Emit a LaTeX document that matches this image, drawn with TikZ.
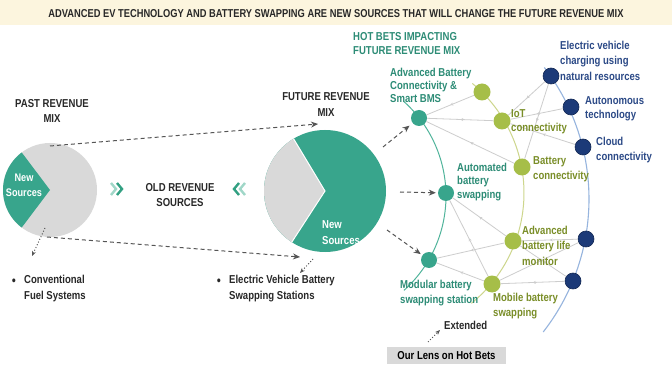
\documentclass[tikz,border=0pt]{standalone}
\usepackage{graphicx}
\usepackage{fontspec}
\setmainfont{Liberation Sans}[FakeStretch=0.83]
\usetikzlibrary{arrows.meta,decorations.markings}
\definecolor{titlebg}{RGB}{252,245,222}
\definecolor{tealc}{RGB}{56,165,140}
\definecolor{tealtxt}{RGB}{45,140,118}
\definecolor{piegrey}{RGB}{217,217,217}
\definecolor{olivec}{RGB}{166,190,72}
\definecolor{olivetxt}{RGB}{122,142,40}
\definecolor{oliveline}{RGB}{205,214,140}
\definecolor{navyc}{RGB}{28,58,120}
\definecolor{navytxt}{RGB}{44,74,135}
\definecolor{navyline}{RGB}{150,180,222}
\definecolor{tealline}{RGB}{80,180,155}
\definecolor{linkgrey}{RGB}{205,205,205}
\definecolor{darktxt}{RGB}{40,40,40}
\definecolor{arrowgrey}{RGB}{85,85,85}
\definecolor{chevlight}{RGB}{160,215,200}
\definecolor{chevdark}{RGB}{50,160,130}
\begin{document}
\begin{tikzpicture}[x=1pt,y=-1pt,
  font=\bfseries\fontsize{11.5}{13}\selectfont,
  tnode/.style={circle,fill=tealc,minimum size=16pt,inner sep=0pt},
  onode/.style={circle,fill=olivec,minimum size=17pt,inner sep=0pt},
  nnode/.style={circle,fill=navyc,draw=navyc!70!black,line width=0.6pt,minimum size=16pt,inner sep=0pt},
  lbl/.style={anchor=west,align=left,inner sep=0pt},
  link/.style={draw=linkgrey,line width=0.8pt,postaction={decorate},
    decoration={markings,mark=at position 0.5 with {\arrow[linkgrey]{Stealth[length=3pt,width=3pt]}}}},
  dasharrow/.style={draw=arrowgrey,line width=1pt,dash pattern=on 4pt off 3pt,-{Stealth[length=7pt,width=6pt]}},
  dotarrow/.style={draw=arrowgrey,line width=1pt,dotted,-{Stealth[length=5pt,width=4pt]}},
  chev/.style={line width=2.4pt,line cap=butt,line join=miter}
]
\useasboundingbox (0,0) rectangle (672,366);
\fill[white] (0,0) rectangle (672,366);
% title bar
\fill[titlebg] (0,0) rectangle (672,25);
\node[text=darktxt,inner sep=0pt] (title) at (336,14) {\resizebox{575pt}{8pt}{ADVANCED EV TECHNOLOGY AND BATTERY SWAPPING ARE NEW SOURCES THAT WILL CHANGE THE FUTURE REVENUE MIX}};

% past pie
\fill[piegrey] (50,190) circle[radius=47pt];
\fill[tealc] (50,190) -- plot[domain=127:233,samples=40] ({50+47*cos(\x)},{190-47*sin(\x)}) -- cycle;
\node[text=white,align=center,inner sep=0pt,font=\bfseries\fontsize{11}{15}\selectfont] (pastnew) at (24,185.5) {New\\Sources};
\node[text=darktxt,align=center,inner sep=0pt,font=\bfseries\fontsize{11.5}{15}\selectfont] (pasthead) at (52,110.5) {PAST REVENUE\\MIX};

% future pie
\fill[tealc] (325,191) circle[radius=61pt];
\fill[piegrey] (325,191) -- plot[domain=121:237,samples=40] ({325+61*cos(\x)},{191-61*sin(\x)}) -- cycle;
\draw[white,line width=1pt] ({325+61*cos(121)},{191-61*sin(121)}) -- (325,191) -- ({325+61*cos(237)},{191-61*sin(237)});
\node[text=white,lbl,font=\bfseries\fontsize{11.5}{16}\selectfont] (futnew) at (322,233) {New\\Sources};
\node[text=darktxt,align=center,inner sep=0pt,font=\bfseries\fontsize{11.5}{16}\selectfont] (futhead) at (326,105) {FUTURE REVENUE\\MIX};

% middle
\draw[chev,chevlight] (111,183) -- (116,189) -- (111,195);
\draw[chev,chevdark] (117,183) -- (122,189) -- (117,195);
\draw[chev,chevdark] (239,183) -- (234,189) -- (239,195);
\draw[chev,chevlight] (245,183) -- (240,189) -- (245,195);
\node[text=darktxt,align=center,inner sep=0pt,font=\bfseries\fontsize{11.5}{15}\selectfont] (old) at (180,195.5) {OLD REVENUE\\SOURCES};

% bullets
\node[inner sep=0pt,text=darktxt,font=\fontsize{14}{14}\selectfont] (b1) at (14,282) {\textbullet};
\node[lbl,text=darktxt,font=\bfseries\fontsize{11.5}{16}\selectfont] (conv) at (24,289) {Conventional\\Fuel Systems};
\node[inner sep=0pt,text=darktxt,font=\fontsize{14}{14}\selectfont] (b2) at (219,282) {\textbullet};
\node[lbl,text=darktxt,font=\bfseries\fontsize{11.5}{16}\selectfont] (evbs) at (229,289) {Electric Vehicle Battery\\Swapping Stations};

% connectors from pies
\coordinate (pt) at (50,146);
\coordinate (ft) at (318,124);
\coordinate (pb) at (47,237);
\coordinate (fb) at (300,257);
\draw[dasharrow] (pt) -- (ft);
\draw[dasharrow] (pb) -- (fb);
\coordinate (pd1) at (45,228);
\coordinate (pd2) at (32,256);
\draw[dotarrow] (pd1) -- (pd2);
\coordinate (fd1) at (313,259);
\coordinate (fd2) at (300,273);
\draw[dotarrow] (fd1) -- (fd2);

% arcs
\draw[tealline,line width=1pt] plot[domain=-48:48,samples=60] ({319+127*cos(\x)},{196-127*sin(\x)});
\draw[oliveline,line width=1pt] plot[domain=-51:50.5,samples=60] ({382+142*cos(\x)},{193-142*sin(\x)});
\draw[navyline,line width=1.1pt] plot[domain=-38:37.5,samples=60] ({373+216*cos(\x)},{199-216*sin(\x)});

% network nodes
\node[tnode] (a1) at (419,118) {};
\node[tnode] (a2) at (446,193) {};
\node[tnode] (a3) at (429,260) {};
\node[onode] (o1) at (482,92) {};
\node[onode] (o2) at (502,121) {};
\node[onode] (o3) at (522,167) {};
\node[onode] (o4) at (513,241) {};
\node[onode] (o5) at (492,284) {};
\node[nnode] (c1) at (551,76) {};
\node[nnode] (c2) at (571,107) {};
\node[nnode] (c3) at (583,147) {};
\node[nnode] (c4) at (586,239) {};
\node[nnode] (c5) at (573,281) {};

% links
\path[link] (o1) -- (a1);
\path[link] (o2) -- (a1);
\path[link] (o3) -- (a1);
\path[link] (c1) -- (o2);
\path[link] (c1) -- (o3);
\path[link] (c2) -- (o2);
\path[link] (c3) -- (o2);
\path[link] (o4) -- (a2);
\path[link] (o5) -- (a2);
\path[link] (o4) -- (a3);
\path[link] (o5) -- (a3);
\path[link] (c4) -- (o4);
\path[link] (c5) -- (o4);
\path[link] (c4) -- (o5);
\path[link] (c5) -- (o5);

% dashed arrows to teal nodes
\coordinate (f1) at (383,147);
\coordinate (f2) at (400,192);
\coordinate (f3) at (387,230);
\draw[dasharrow,shorten >=4pt] (f1) -- (a1);
\draw[dasharrow,shorten >=2pt] (f2) -- (a2);
\draw[dasharrow,shorten >=2pt] (f3) -- (a3);

% labels
\node[lbl,text=tealtxt,font=\bfseries\fontsize{11.5}{14}\selectfont] (hot) at (353,44) {HOT BETS IMPACTING\\FUTURE REVENUE MIX};
\node[lbl,text=tealtxt] (la1) at (390,85) {Advanced Battery\\Connectivity \&\\Smart BMS};
\node[lbl,text=tealtxt,font=\bfseries\fontsize{11.5}{13.5}\selectfont] (la2) at (457,182) {Automated\\battery\\swapping};
\node[lbl,text=tealtxt,font=\bfseries\fontsize{11.5}{15}\selectfont] (la3) at (400,293.5) {Modular battery\\swapping station};
\node[lbl,text=olivetxt,font=\bfseries\fontsize{11.5}{14}\selectfont] (lo2) at (511,122) {IoT\\connectivity};
\node[lbl,text=olivetxt,font=\bfseries\fontsize{11.5}{15}\selectfont] (lo3) at (533,169.5) {Battery\\connectivity};
\node[lbl,text=olivetxt,font=\bfseries\fontsize{11.5}{15.5}\selectfont] (lo4) at (522,245.5) {Advanced\\battery life\\monitor};
\node[lbl,text=olivetxt,font=\bfseries\fontsize{11.5}{15}\selectfont] (lo5) at (493,306.5) {Mobile battery\\swapping};
\node[lbl,text=navytxt,font=\bfseries\fontsize{11.5}{15.5}\selectfont] (lc1) at (560,60.5) {Electric vehicle\\charging using\\natural resources};
\node[lbl,text=navytxt,font=\bfseries\fontsize{11.5}{14}\selectfont] (lc2) at (585,109) {Autonomous\\technology};
\node[lbl,text=navytxt,font=\bfseries\fontsize{11.5}{15}\selectfont] (lc3) at (596,150.5) {Cloud\\connectivity};

% extended
\node[lbl,text=darktxt] (ext) at (444,325) {Extended};
\coordinate (e1) at (428,342);
\coordinate (e2) at (440,330);
\draw[dotarrow] (e1) -- (e2);

% lens box
\node[fill=piegrey,minimum width=119pt,minimum height=17pt,inner sep=0pt,text=black] (lens) at (446.5,355.5) {Our Lens on Hot Bets};
\end{tikzpicture}
\end{document}
